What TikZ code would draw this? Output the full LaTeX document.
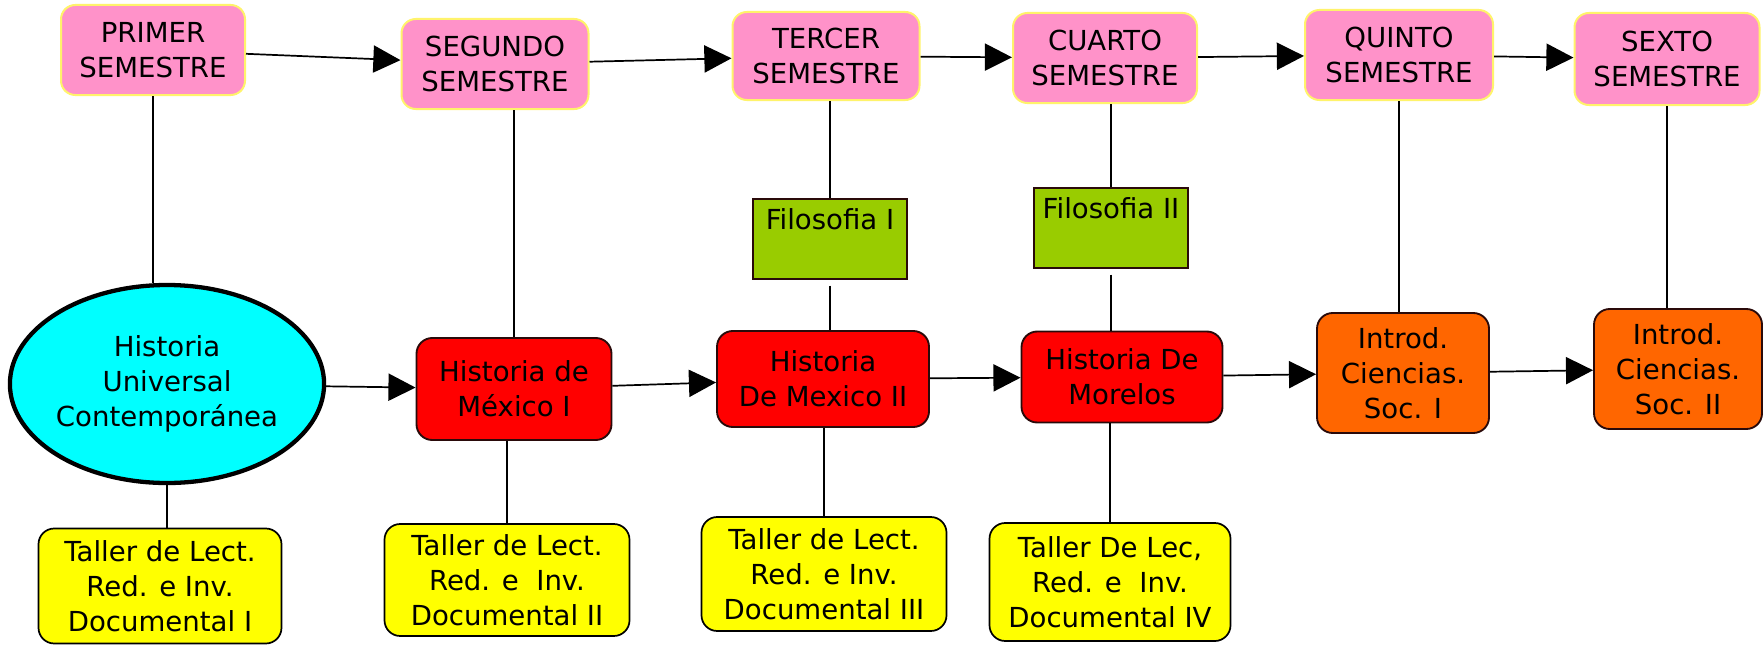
\documentclass[tikz,border=0pt]{standalone}
\usepackage{fontspec}
\setmainfont{DejaVu Sans}
\usetikzlibrary{shapes.geometric,arrows.meta}

\definecolor{rosa}{HTML}{FF92C9}
\definecolor{brillo}{HTML}{FFF36B}
\definecolor{rojo}{HTML}{FF0000}
\definecolor{naranja}{HTML}{FF6600}
\definecolor{verde}{HTML}{99CC00}
\definecolor{celeste}{HTML}{00FFFF}
\definecolor{amarillo}{HTML}{FFFF00}
\definecolor{borde}{HTML}{2A0A0A}

\newcommand{\pxu}{0.7pt}

\begin{document}
\begin{tikzpicture}[
        x = 0.7pt, y = -0.7pt,
        font = \fontsize{19.3}{24.5}\selectfont,
        every node/.style = {align=center, inner sep=0pt},
        caja/.style 2 args = {minimum width=#1*\pxu, minimum height=#2*\pxu},
        semestre/.style = {draw=brillo, line width=1.4pt, fill=rosa, rounded corners=10pt},
        historia/.style = {draw=borde, line width=1.3pt, fill=rojo, rounded corners=11pt},
        introd/.style = {draw=borde, line width=1.3pt, fill=naranja, rounded corners=11pt},
        universal/.style = {ellipse, draw=black, line width=3pt, fill=celeste},
        filosofia/.style = {draw=borde, line width=1.3pt, fill=verde, text height=21pt, text depth=35pt},
        taller/.style = {draw=black, line width=1.2pt, fill=amarillo, rounded corners=11pt},
        flecha/.style = {-{Triangle[length=19pt, width=19pt]}, line width=1.2pt},
        linea/.style = {line width=1pt}
    ]

    \useasboundingbox (0, 0) rectangle (1763, 645);

    % semestres
    \node[semestre, caja={184}{90}] (prim) at (153, 50) {PRIMER\\SEMESTRE};
    \node[semestre, caja={187}{90}] (seg) at (495, 64) {SEGUNDO\\SEMESTRE};
    \node[semestre, caja={187}{88}] (terc) at (826, 56) {TERCER\\SEMESTRE};
    \node[semestre, caja={184}{90}] (cuar) at (1105, 58) {CUARTO\\SEMESTRE};
    \node[semestre, caja={188}{90}] (quin) at (1399, 55) {QUINTO\\SEMESTRE};
    \node[semestre, caja={185}{92}] (sext) at (1667, 59) {SEXTO\\SEMESTRE};

    % materias de historia
    \node[universal, caja={310}{198}] (hu) at (167, 384) {Historia\\Universal\\Contemporánea};
    \node[historia, caja={195}{102}] (hm1) at (514, 389) {Historia de\\México I};
    \node[historia, caja={212}{96}] (hm2) at (823, 379) {Historia\\De Mexico II};
    \node[historia, caja={201}{91}] (hmor) at (1122, 377) {Historia De\\Morelos};
    \node[introd, caja={172}{120}] (ic1) at (1403, 373) {Introd.\\Ciencias.\\Soc. I};
    \node[introd, caja={168}{120}] (ic2) at (1678, 369) {Introd.\\Ciencias.\\Soc. II};

    \node[filosofia, caja={154}{80}] (fil1) at (830, 239) {Filosofia I};
    \node[filosofia, caja={154}{79}] (fil2) at (1111, 228) {Filosofia II};

    % talleres
    \node[taller, caja={243}{115}] (tal1) at (160, 586) {Taller de Lect.\\Red. e Inv.\\Documental I};
    \node[taller, caja={245}{112}] (tal2) at (507, 580) {Taller de Lect.\\Red. e\ \ Inv.\\Documental II};
    \node[taller, caja={245}{114}] (tal3) at (824, 574) {Taller de Lect.\\Red. e Inv.\\Documental III};
    \node[taller, caja={241}{118}] (tal4) at (1110, 582) {Taller De Lec,\\Red. e\ \ Inv.\\Documental IV};

    \draw[flecha] (prim) -- (seg);
    \draw[flecha] (seg) -- (terc);
    \draw[flecha] (terc) -- (cuar);
    \draw[flecha] (cuar) -- (quin);
    \draw[flecha] (quin) -- (sext);

    \draw[flecha] (hu) -- (hm1);
    \draw[flecha] (hm1) -- (hm2);
    \draw[flecha] (hm2) -- (hmor);
    \draw[flecha] (hmor) -- (ic1);
    \draw[flecha] (ic1) -- (ic2);

    \draw[linea] (prim.south) -- (prim.south |- hu.north);
    \draw[linea] (seg.south -| hm1.north) -- (hm1.north);
    \draw[linea] (terc.south -| fil1.north) -- (fil1.north);
    \draw[linea, shorten <=4pt] (fil1.south) -- (fil1.south |- hm2.north);
    \draw[linea] (cuar.south -| fil2.north) -- (fil2.north);
    \draw[linea, shorten <=4pt] (fil2.south) -- (fil2.south |- hmor.north);
    \draw[linea] (quin.south) -- (quin.south |- ic1.north);
    \draw[linea] (sext.south) -- (sext.south |- ic2.north);

    \draw[linea] (hu.south) -- (hu.south |- tal1.north);
    \draw[linea] (hm1.south -| tal2.north) -- (tal2.north);
    \draw[linea] (hm2.south -| tal3.north) -- (tal3.north);
    \draw[linea] (hmor.south -| tal4.north) -- (tal4.north);

\end{tikzpicture}
\end{document}
